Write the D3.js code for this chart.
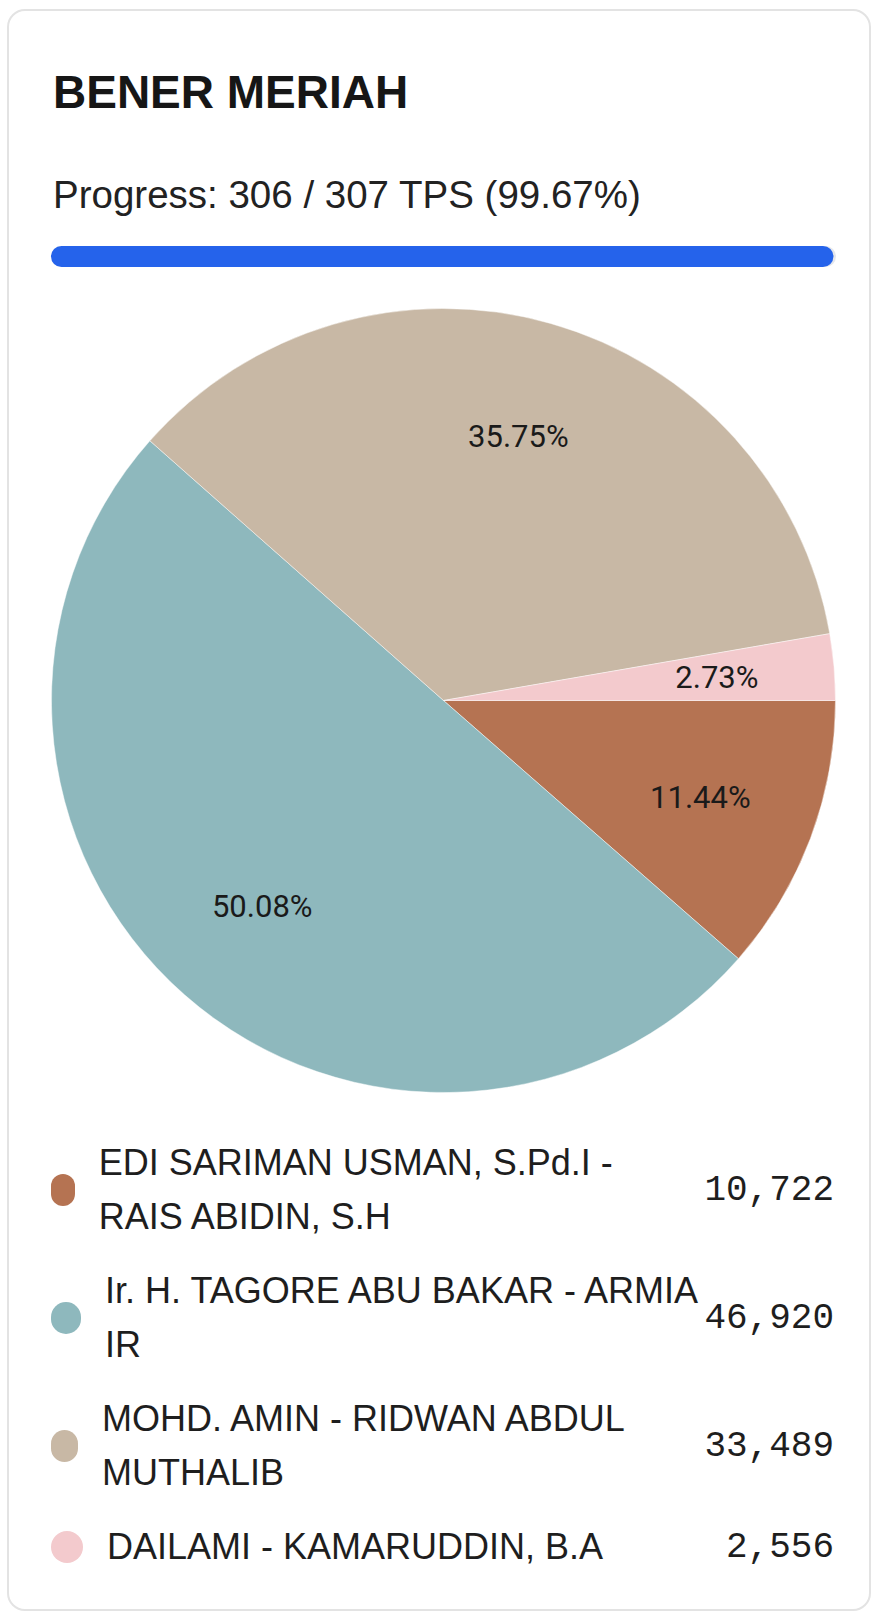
<!DOCTYPE html>
<html>
<head>
<meta charset="utf-8">
<script src="https://cdn.jsdelivr.net/npm/d3@7"></script>
<style>
  body { margin: 0; width: 872px; height: 1612px; background: #fff; position: relative; overflow: hidden; }
  #card { position: absolute; left: 7px; top: 9px; width: 864px; height: 1602px; box-sizing: border-box;
          border: 2px solid #e3e3e3; border-radius: 18px; }
  #chart { position: absolute; left: 0; top: 0; }
  #legend { position: absolute; left: 51px; top: 1136px; width: 783px; }
  .row { display: flex; justify-content: space-between; align-items: center; margin-bottom: 20px; }
  .left { display: flex; align-items: center; }
  .dot { width: 32px; height: 32px; border-radius: 16px; margin-right: 24px; }
  .name { font-family: "Liberation Sans", Arial, sans-serif; font-size: 36px; line-height: 54px; color: #1e1e1e; }
  .val { font-family: "Liberation Mono", monospace; font-size: 36px; color: #1e1e1e; white-space: nowrap; }
</style>
</head>
<body>
<div id="card"></div>
<svg id="chart" width="872" height="1612"></svg>
<div id="legend"></div>
<script>
// data
var region = "BENER MERIAH";
var tpsDone = 306, tpsTotal = 307;
var candidates = [
  "EDI SARIMAN USMAN, S.Pd.I - RAIS ABIDIN, S.H",
  "Ir. H. TAGORE ABU BAKAR - ARMIA IR",
  "MOHD. AMIN - RIDWAN ABDUL MUTHALIB",
  "DAILAMI - KAMARUDDIN, B.A"
];
var votes = [10722, 46920, 33489, 2556];
var colors = ["#b57352", "#8eb8bd", "#c8b8a5", "#f3cacd"];

var svg = d3.select("#chart");
var total = d3.sum(votes);

// title + progress
svg.append("text")
    .attr("x", 53).attr("y", 108)
    .text(region)
    .attr("font-family", "Liberation Sans, Arial, sans-serif")
    .attr("font-weight", "bold")
    .attr("font-size", "46px")
    .attr("fill", "#161616");

svg.append("text")
    .attr("x", 53).attr("y", 208)
    .text("Progress: " + tpsDone + " / " + tpsTotal + " TPS (" + (tpsDone / tpsTotal * 100).toFixed(2) + "%)")
    .attr("font-family", "Liberation Sans, Arial, sans-serif")
    .attr("font-size", "38.5px")
    .attr("fill", "#222");

var bar = d3.scaleLinear().domain([0, tpsTotal]).range([0, 785]);
svg.append("rect")
    .attr("x", 51).attr("y", 246)
    .attr("width", bar(tpsTotal)).attr("height", 21)
    .attr("rx", 10.5)
    .attr("fill", "#e5e7eb");
svg.append("rect")
    .attr("x", 51).attr("y", 246)
    .attr("width", bar(tpsDone)).attr("height", 21)
    .attr("rx", 10.5)
    .attr("fill", "#2563eb");

// pie
var radius = 392;
var g = svg.append("g").attr("transform", "translate(443.5,700.5)");
var pie = d3.pie().sort(null)
    .startAngle(Math.PI / 2)
    .endAngle(Math.PI / 2 + 2 * Math.PI);
var arcs = pie(votes);
var arc = d3.arc().innerRadius(0).outerRadius(radius);
var labelArc = d3.arc().innerRadius(radius * 0.7).outerRadius(radius * 0.7);

g.selectAll("path")
    .data(arcs)
    .enter()
    .append("path")
        .attr("d", arc)
        .attr("fill", function(d, i) { return colors[i]; })
        .attr("stroke", "#fff")
        .attr("stroke-opacity", 0.6)
        .attr("stroke-width", 0.75);

g.selectAll("text")
    .data(arcs)
    .enter()
    .append("text")
        .attr("transform", function(d) { return "translate(" + labelArc.centroid(d) + ")"; })
        .attr("text-anchor", "middle")
        .attr("dominant-baseline", "central")
        .text(function(d) { return (d.value / total * 100).toFixed(2) + "%"; })
        .attr("font-family", "Roboto, sans-serif")
        .attr("font-size", "31px")
        .attr("fill", "#1a1a1a");

// legend
var rows = d3.select("#legend")
    .selectAll("div.row")
    .data(candidates)
    .enter()
    .append("div")
        .attr("class", "row");

var left = rows.append("div").attr("class", "left");
left.append("span")
    .attr("class", "dot")
    .style("background", function(d, i) { return colors[i]; });
left.append("span")
    .attr("class", "name")
    .text(function(d) { return d; });

rows.append("span")
    .attr("class", "val")
    .text(function(d, i) { return d3.format(",")(votes[i]); });
</script>
</body>
</html>
